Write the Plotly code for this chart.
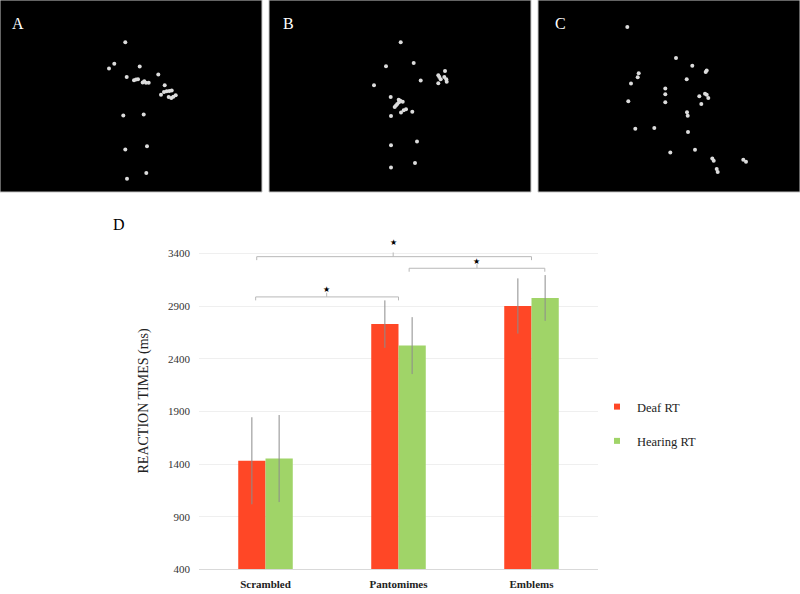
import plotly.graph_objects as go

# ---------------- data ----------------
categories = ["Scrambled", "Pantomimes", "Emblems"]
deaf_rt = [1432, 2729, 2901]
deaf_err = [413, 225, 262]
hearing_rt = [1453, 2525, 2977]
hearing_err = [413, 270, 217]
y_ticks = [400, 900, 1400, 1900, 2400, 2900, 3400]

# significance brackets
brackets_x0 = [-0.066, 1.08, -0.074]
brackets_x1 = [2.0, 2.10, 1.0]
brackets_y = [3369, 3259, 2987]
brackets_mid = [0.96, 1.59, 0.46]
star_y = [3507, 3325, 3059]

# point-light figure dots (pixel coordinates inside each panel)
panel_a_x = [125.3, 114.3, 109, 139.7, 126.7, 134, 136, 138, 142.7, 144.3, 146, 148.7, 158.3, 164.7,
             164, 166.7, 169.3, 171.7, 161, 168.7, 171.3, 173.3, 175.7, 123.3, 143.7, 125.3, 147, 127, 146.3]
panel_a_y = [42.7, 64.3, 69.3, 67.3, 77.7, 81, 80.3, 80, 83.3, 82, 83.7, 83.7, 75.3, 86,
             93, 92.3, 92, 91.3, 95.7, 98, 99, 97.7, 96.3, 116.7, 115.7, 151, 147.7, 180.7, 174.7]
panel_b_x = [132.7, 145.7, 118, 152.7, 106, 170.3, 171.3, 177, 176.3, 178.3, 178.7, 170.3, 172.7,
             122.7, 130.7, 132.3, 134.7, 129.3, 128, 126.7, 131, 138, 135.7, 133, 144.3, 123, 123, 149, 123, 147]
panel_b_y = [42.7, 63.7, 67, 81.3, 86, 76, 77.7, 71.7, 77.7, 80, 82.7, 84, 80,
             98, 100.7, 101.7, 102.7, 105, 106.7, 108, 103.3, 110.3, 111.3, 113.7, 113, 117.3, 146.7, 143, 169.3, 164.7]
panel_c_x = [92.3, 141, 157.3, 171.7, 170.7, 103.7, 102.7, 151.7, 96, 130.3, 130.3, 170, 171.7, 173.3, 164.3,
             93.3, 130.3, 166.3, 152, 152.7, 100.3, 119.3, 153, 135.3, 160, 177.3, 178.7, 181.7, 182.7, 208.3, 211]
panel_c_y = [27.3, 58.7, 66.3, 71.3, 72.7, 74, 78, 80, 84.3, 89.3, 95.3, 94.7, 95.7, 99, 97.3,
             102.3, 103.3, 105, 113.3, 117, 130, 129.3, 133.3, 154, 151.3, 160, 162.3, 170.7, 173.7, 161.3, 163.3]
panel_labels = ["A", "B", "C"]

# ---------------- layout constants ----------------
W, H = 800, 594
panel_x0 = [0, 268, 535]
panel_boxes = [(0, 0, 262, 194), (269, 0, 531, 194), (538, 0, 800, 194)]
label_pos = [(17.5, 24), (288, 24), (560, 24)]

RED = "#FF4726"
GREEN = "#A0D468"
SERIF = "Liberation Serif, Times New Roman, serif"

fig = go.Figure()

for i, (px, py) in enumerate([(panel_a_x, panel_a_y), (panel_b_x, panel_b_y), (panel_c_x, panel_c_y)]):
    fig.add_trace(go.Scatter(
        x=[v + panel_x0[i] for v in px], y=py, mode="markers",
        marker=dict(size=4, color="#dcdcdc"), showlegend=False, hoverinfo="skip",
        xaxis="x", yaxis="y"))

shapes = []
for (x0, y0, x1, y1) in panel_boxes:
    shapes.append(dict(type="rect", xref="x", yref="y", x0=x0, y0=y0, x1=x1, y1=y1,
                       fillcolor="black", line=dict(color="#c8c8c8", width=1), layer="below"))

annotations = []
for lab, (lx, ly) in zip(panel_labels, label_pos):
    annotations.append(dict(text=lab, x=lx, y=ly, xref="x", yref="y", showarrow=False,
                            font=dict(family=SERIF, size=16, color="white")))
annotations.append(dict(text="D", x=118.5, y=227, xref="x", yref="y", showarrow=False,
                        font=dict(family=SERIF, size=16, color="black")))

# --- bars ---
fig.add_trace(go.Bar(
    x=categories, y=deaf_rt, name="Deaf RT", marker=dict(color=RED, line=dict(width=0)),
    error_y=dict(type="data", array=deaf_err, color="#8c8c8c", thickness=1, width=0),
    xaxis="x2", yaxis="y2", legendgroup="deaf", showlegend=False))
fig.add_trace(go.Bar(
    x=categories, y=hearing_rt, name="Hearing RT", marker=dict(color=GREEN, line=dict(width=0)),
    error_y=dict(type="data", array=hearing_err, color="#8c8c8c", thickness=1, width=0),
    xaxis="x2", yaxis="y2", legendgroup="hearing", showlegend=False))
# legend entries with the small square keys of the original
for nm, col, grp in [("Deaf RT", RED, "deaf"), ("Hearing RT", GREEN, "hearing")]:
    fig.add_trace(go.Scatter(x=[None], y=[None], mode="markers", name=nm, legendgroup=grp,
                             marker=dict(symbol="square", size=6, color=col),
                             xaxis="x2", yaxis="y2"))

BR = "#b8b8b8"
for x0, x1, yb, xm, ys in zip(brackets_x0, brackets_x1, brackets_y, brackets_mid, star_y):
    shapes.append(dict(type="path", xref="x2", yref="y2",
                       path=f"M {x0},{yb-33} L {x0},{yb} L {x1},{yb} L {x1},{yb-33}",
                       line=dict(color=BR, width=1)))
    shapes.append(dict(type="line", xref="x2", yref="y2", x0=xm, x1=xm, y0=yb, y1=yb + 40,
                       line=dict(color=BR, width=1)))
    annotations.append(dict(text="★", x=xm, y=ys, xref="x2", yref="y2", showarrow=False,
                            font=dict(family="DejaVu Sans", size=8, color="black")))

y_bottom = (H - 575.3) / H
y_top = (H - 234.7) / H

fig.update_layout(
    width=W, height=H, autosize=False, margin=dict(l=0, r=0, t=0, b=0, pad=0),
    paper_bgcolor="white", plot_bgcolor="rgba(0,0,0,0)",
    barmode="group", bargap=0.59, bargroupgap=0,
    xaxis=dict(domain=[0, 1], range=[0, W], visible=False, fixedrange=True),
    yaxis=dict(domain=[0, 1], range=[H, 0], visible=False, fixedrange=True),
    xaxis2=dict(domain=[199 / W, 598 / W], anchor="y2", type="category",
                categoryorder="array", categoryarray=categories,
                range=[-0.5, 2.5],
                tickfont=dict(family=SERIF, size=11, color="#222"),
                tickprefix="<b>", ticksuffix="</b>", ticklabelstandoff=4,
                showline=True, linecolor="#d9d9d9", linewidth=1, ticks="", showgrid=False),
    yaxis2=dict(domain=[y_bottom, y_top], anchor="x2", range=[400, 3600],
                tickvals=y_ticks, ticktext=[str(v) for v in y_ticks],
                tickfont=dict(family=SERIF, size=11, color="#333"),
                showgrid=True, gridcolor="#efefef", gridwidth=1, zeroline=False,
                showline=False, ticks="", ticklabelstandoff=8,
                title=dict(text="REACTION TIMES (ms)", font=dict(family=SERIF, size=14, color="#222"),
                           standoff=16)),
    legend=dict(x=597 / W, y=1 - 396 / H, xanchor="left", yanchor="top",
                font=dict(family=SERIF, size=12.5, color="#222"),
                traceorder="grouped", tracegroupgap=15, itemwidth=30,
                bgcolor="rgba(0,0,0,0)"),
    shapes=shapes, annotations=annotations,
)

css_fix = (
    "var s=document.createElement('style');"
    "s.textContent='html,body{margin:0;padding:0;height:594px;overflow:hidden;line-height:0;}"
    "body>div{display:block;height:594px;overflow:hidden;}';"
    "document.head.appendChild(s);"
)
fig.write_html("out.html",
               config={"displayModeBar": False, "responsive": False},
               default_width="800px", default_height="594px",
               post_script=css_fix)
